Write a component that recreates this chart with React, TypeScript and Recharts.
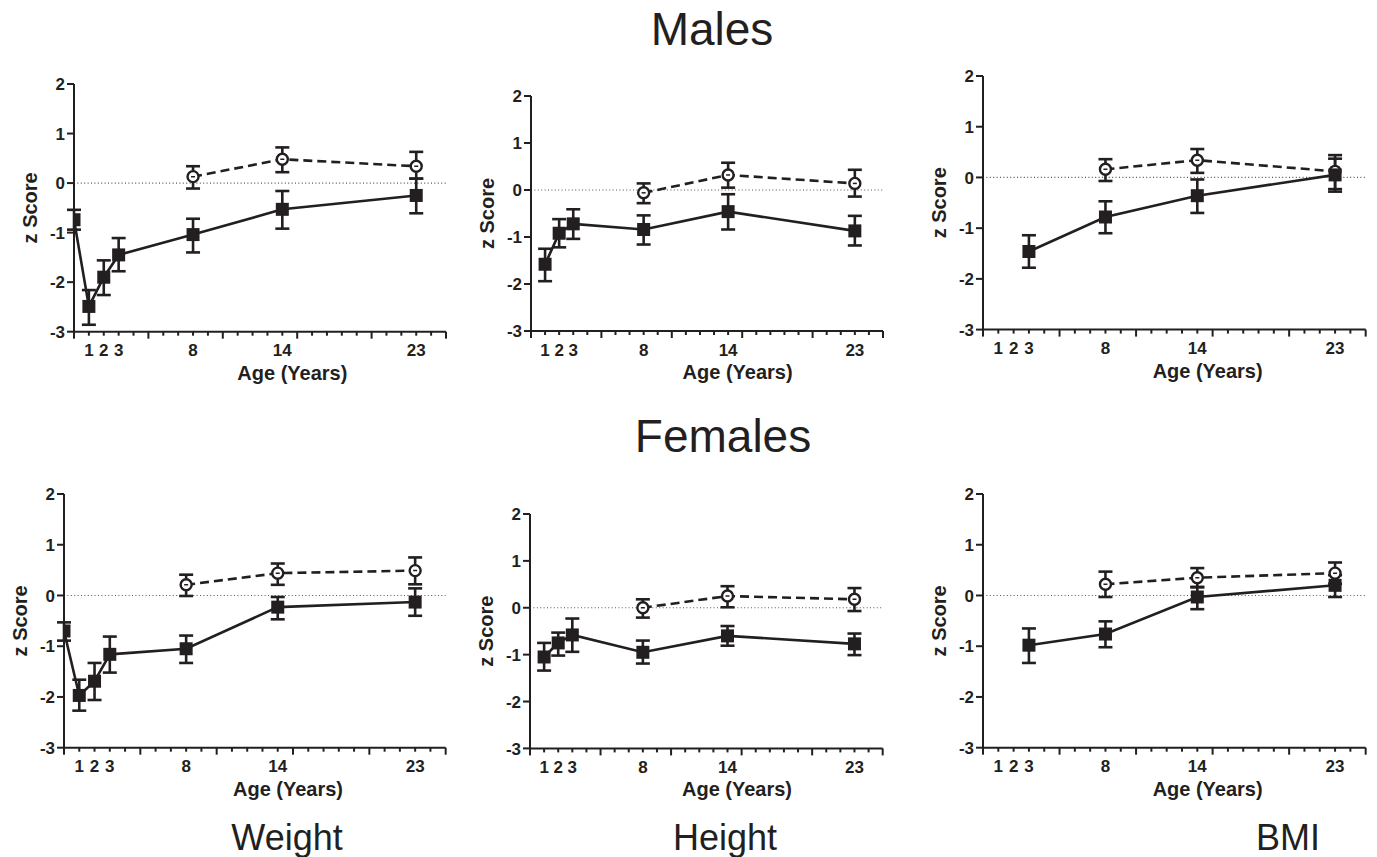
import React from 'react';
import { LineChart, Line, XAxis, YAxis, ErrorBar, ReferenceLine } from 'recharts';

const FONT = "'Liberation Sans', Arial, Helvetica, sans-serif";
const INK = '#231f20';

// ---- axes ----
const xTickAges = [0, 1, 2, 3, 4, 5, 6, 7, 8, 9, 10, 11, 12, 13, 14, 15, 16, 17, 18, 19, 20, 21, 22, 23, 24, 25];
const xLabelAges = [1, 2, 3, 8, 14, 23];
const yTicks = [-3, -2, -1, 0, 1, 2];

// ---- ages measured ----
const agesFromBirth = [0, 1, 2, 3, 8, 14, 23];
const agesFromOne = [1, 2, 3, 8, 14, 23];
const agesFromThree = [3, 8, 14, 23];
const agesControls = [8, 14, 23];

// ---- Males: Weight ----
const mWeightPatMean = [-0.74, -2.49, -1.9, -1.45, -1.04, -0.53, -0.25];
const mWeightPatUpper = [-0.54, -2.16, -1.56, -1.11, -0.72, -0.16, 0.09];
const mWeightPatLower = [-0.94, -2.86, -2.26, -1.78, -1.4, -0.92, -0.61];
const mWeightCtlMean = [0.13, 0.48, 0.34];
const mWeightCtlUpper = [0.34, 0.72, 0.63];
const mWeightCtlLower = [-0.11, 0.22, 0.09];

// ---- Males: Height ----
const mHeightPatMean = [-1.58, -0.92, -0.72, -0.84, -0.46, -0.87];
const mHeightPatUpper = [-1.25, -0.62, -0.41, -0.54, -0.09, -0.55];
const mHeightPatLower = [-1.94, -1.22, -1.04, -1.16, -0.84, -1.18];
const mHeightCtlMean = [-0.06, 0.32, 0.14];
const mHeightCtlUpper = [0.14, 0.58, 0.43];
const mHeightCtlLower = [-0.28, 0.05, -0.14];

// ---- Males: BMI ----
const mBmiPatMean = [-1.46, -0.78, -0.36, 0.05];
const mBmiPatUpper = [-1.14, -0.47, -0.04, 0.37];
const mBmiPatLower = [-1.78, -1.1, -0.7, -0.28];
const mBmiCtlMean = [0.16, 0.34, 0.12];
const mBmiCtlUpper = [0.36, 0.56, 0.44];
const mBmiCtlLower = [-0.07, 0.09, -0.23];

// ---- Females: Weight ----
const fWeightPatMean = [-0.7, -1.97, -1.69, -1.16, -1.05, -0.23, -0.13];
const fWeightPatUpper = [-0.53, -1.66, -1.33, -0.81, -0.79, -0.03, 0.14];
const fWeightPatLower = [-0.89, -2.27, -2.06, -1.52, -1.33, -0.47, -0.4];
const fWeightCtlMean = [0.21, 0.44, 0.49];
const fWeightCtlUpper = [0.41, 0.63, 0.75];
const fWeightCtlLower = [-0.01, 0.21, 0.22];

// ---- Females: Height ----
const fHeightPatMean = [-1.05, -0.75, -0.58, -0.95, -0.6, -0.77];
const fHeightPatUpper = [-0.75, -0.53, -0.23, -0.7, -0.39, -0.55];
const fHeightPatLower = [-1.34, -1.02, -0.94, -1.19, -0.81, -1.01];
const fHeightCtlMean = [0.0, 0.25, 0.18];
const fHeightCtlUpper = [0.18, 0.46, 0.42];
const fHeightCtlLower = [-0.21, 0.01, -0.07];

// ---- Females: BMI ----
const fBmiPatMean = [-0.98, -0.76, -0.03, 0.2];
const fBmiPatUpper = [-0.65, -0.51, 0.17, 0.4];
const fBmiPatLower = [-1.33, -1.02, -0.27, -0.03];
const fBmiCtlMean = [0.22, 0.35, 0.44];
const fBmiCtlUpper = [0.47, 0.54, 0.65];
const fBmiCtlLower = [-0.03, 0.16, 0.23];

type Pt = { age: number; z: number; err: [number, number] };

function series(ages: number[], mean: number[], lower: number[], upper: number[]): Pt[] {
  return ages.map((a, i) => ({
    age: a,
    z: mean[i],
    err: [mean[i] - lower[i], upper[i] - mean[i]],
  }));
}

const renderSquare = (p: any) => {
  if (p.cx == null || p.cy == null) return <g key={`s-${p.index}`} />;
  return <rect key={`s-${p.index}`} x={p.cx - 6.5} y={p.cy - 6.5} width={13} height={13} fill={INK} />;
};

const renderCircle = (p: any) => {
  if (p.cx == null || p.cy == null) return <g key={`c-${p.index}`} />;
  return (
    <g key={`c-${p.index}`}>
      <circle cx={p.cx} cy={p.cy} r={5.5} fill="#fff" stroke={INK} strokeWidth={2.4} />
      <line x1={p.cx - 2} x2={p.cx + 2} y1={p.cy} y2={p.cy} stroke={INK} strokeWidth={1.5} />
    </g>
  );
};

const XTick = (props: any) => {
  const { x, y, payload } = props;
  const v = Math.round(payload.value);
  const major = v % 5 === 0;
  return (
    <g>
      <line x1={x} x2={x} y1={y} y2={y + (major ? 7 : 4)} stroke={INK} strokeWidth={2} />
      {xLabelAges.includes(v) && (
        <text x={x} y={y + 24.5} textAnchor="middle" fontFamily={FONT} fontWeight="bold" fontSize={17} fill={INK}>
          {v}
        </text>
      )}
    </g>
  );
};

const YTick = (props: any) => {
  const { x, y, payload } = props;
  return (
    <text x={x} y={y} dy="0.36em" textAnchor="end" fontFamily={FONT} fontWeight="bold" fontSize={17} fill={INK}>
      {payload.value}
    </text>
  );
};

const renderZLabel = (props: any) => {
  const vb = props.viewBox || {};
  const cx = vb.x + vb.width - 44 + 7;
  const cy = vb.y + vb.height / 2;
  return (
    <text
      x={cx}
      y={cy}
      transform={`rotate(-90 ${cx} ${cy})`}
      textAnchor="middle"
      fontFamily={FONT}
      fontWeight="bold"
      fontSize={20}
      fill={INK}
    >
      z Score
    </text>
  );
};

const renderAgeLabel = (props: any) => {
  const vb = props.viewBox || {};
  const cx = vb.x + vb.width * 0.587;
  const cy = vb.y + 48;
  return (
    <text x={cx} y={cy} textAnchor="middle" fontFamily={FONT} fontWeight="bold" fontSize={20} fill={INK}>
      Age (Years)
    </text>
  );
};

const YL = 60;
const MT = 10;
const MR = 11;
const XH = 60;

function Panel({ box, patients, controls }: { box: number[]; patients: Pt[]; controls: Pt[] }) {
  const [L, T, R, B] = box;
  const width = R - L + YL + MR;
  const height = B - T + MT + XH;
  return (
    <div style={{ position: 'absolute', left: L - YL, top: T - MT }}>
      <LineChart width={width} height={height} margin={{ top: MT, right: MR, bottom: 0, left: 0 }}>
        <XAxis
          type="number"
          dataKey="age"
          domain={[0, 25]}
          ticks={xTickAges}
          interval={0}
          allowDataOverflow
          tickLine={false}
          tickSize={0}
          tickMargin={0}
          height={XH}
          axisLine={{ stroke: INK, strokeWidth: 2 }}
          tick={<XTick />}
          label={renderAgeLabel}
        />
        <YAxis
          type="number"
          domain={[-3, 2]}
          ticks={yTicks}
          interval={0}
          allowDataOverflow
          width={YL}
          tickSize={7}
          tickMargin={2}
          tickLine={{ stroke: INK, strokeWidth: 2 }}
          axisLine={{ stroke: INK, strokeWidth: 2 }}
          tick={<YTick />}
          label={renderZLabel}
        />
        <ReferenceLine y={0} stroke="#555" strokeWidth={1.2} strokeDasharray="1 2.4" />
        <Line
          data={controls}
          dataKey="z"
          type="linear"
          stroke={INK}
          strokeWidth={2.6}
          strokeDasharray="9 5"
          dot={renderCircle}
          activeDot={false}
          isAnimationActive={false}
        >
          <ErrorBar dataKey="err" direction="y" width={7} strokeWidth={2.6} stroke={INK} />
        </Line>
        <Line
          data={patients}
          dataKey="z"
          type="linear"
          stroke={INK}
          strokeWidth={2.6}
          dot={renderSquare}
          activeDot={false}
          isAnimationActive={false}
        >
          <ErrorBar dataKey="err" direction="y" width={7} strokeWidth={2.6} stroke={INK} />
        </Line>
      </LineChart>
    </div>
  );
}

export default function App() {
  return (
    <div style={{ position: 'absolute', left: 0, top: 0, width: 1377, height: 857, background: '#fff', overflow: 'hidden' }}>
      <svg width={1377} height={857} style={{ position: 'absolute', left: 0, top: 0 }}>
        <text x={712} y={45} textAnchor="middle" fontFamily={FONT} fontSize={46} fill={INK}>Males</text>
        <text x={723} y={452} textAnchor="middle" fontFamily={FONT} fontSize={46} fill={INK}>Females</text>
        <text x={287} y={850} textAnchor="middle" fontFamily={FONT} fontSize={36} fill={INK}>Weight</text>
        <text x={725} y={850} textAnchor="middle" fontFamily={FONT} fontSize={36} fill={INK}>Height</text>
        <text x={1288} y={850} textAnchor="middle" fontFamily={FONT} fontSize={36} fill={INK}>BMI</text>
      </svg>
      <Panel
        box={[74, 84.3, 446, 332]}
        patients={series(agesFromBirth, mWeightPatMean, mWeightPatLower, mWeightPatUpper)}
        controls={series(agesControls, mWeightCtlMean, mWeightCtlLower, mWeightCtlUpper)}
      />
      <Panel
        box={[530.7, 96, 882.7, 331]}
        patients={series(agesFromOne, mHeightPatMean, mHeightPatLower, mHeightPatUpper)}
        controls={series(agesControls, mHeightCtlMean, mHeightCtlLower, mHeightCtlUpper)}
      />
      <Panel
        box={[983.3, 75.7, 1366, 329.3]}
        patients={series(agesFromThree, mBmiPatMean, mBmiPatLower, mBmiPatUpper)}
        controls={series(agesControls, mBmiCtlMean, mBmiCtlLower, mBmiCtlUpper)}
      />
      <Panel
        box={[64.3, 494, 446, 747.7]}
        patients={series(agesFromBirth, fWeightPatMean, fWeightPatLower, fWeightPatUpper)}
        controls={series(agesControls, fWeightCtlMean, fWeightCtlLower, fWeightCtlUpper)}
      />
      <Panel
        box={[530, 514.3, 882.7, 748.7]}
        patients={series(agesFromOne, fHeightPatMean, fHeightPatLower, fHeightPatUpper)}
        controls={series(agesControls, fHeightCtlMean, fHeightCtlLower, fHeightCtlUpper)}
      />
      <Panel
        box={[983.3, 494, 1366, 747.7]}
        patients={series(agesFromThree, fBmiPatMean, fBmiPatLower, fBmiPatUpper)}
        controls={series(agesControls, fBmiCtlMean, fBmiCtlLower, fBmiCtlUpper)}
      />
    </div>
  );
}
